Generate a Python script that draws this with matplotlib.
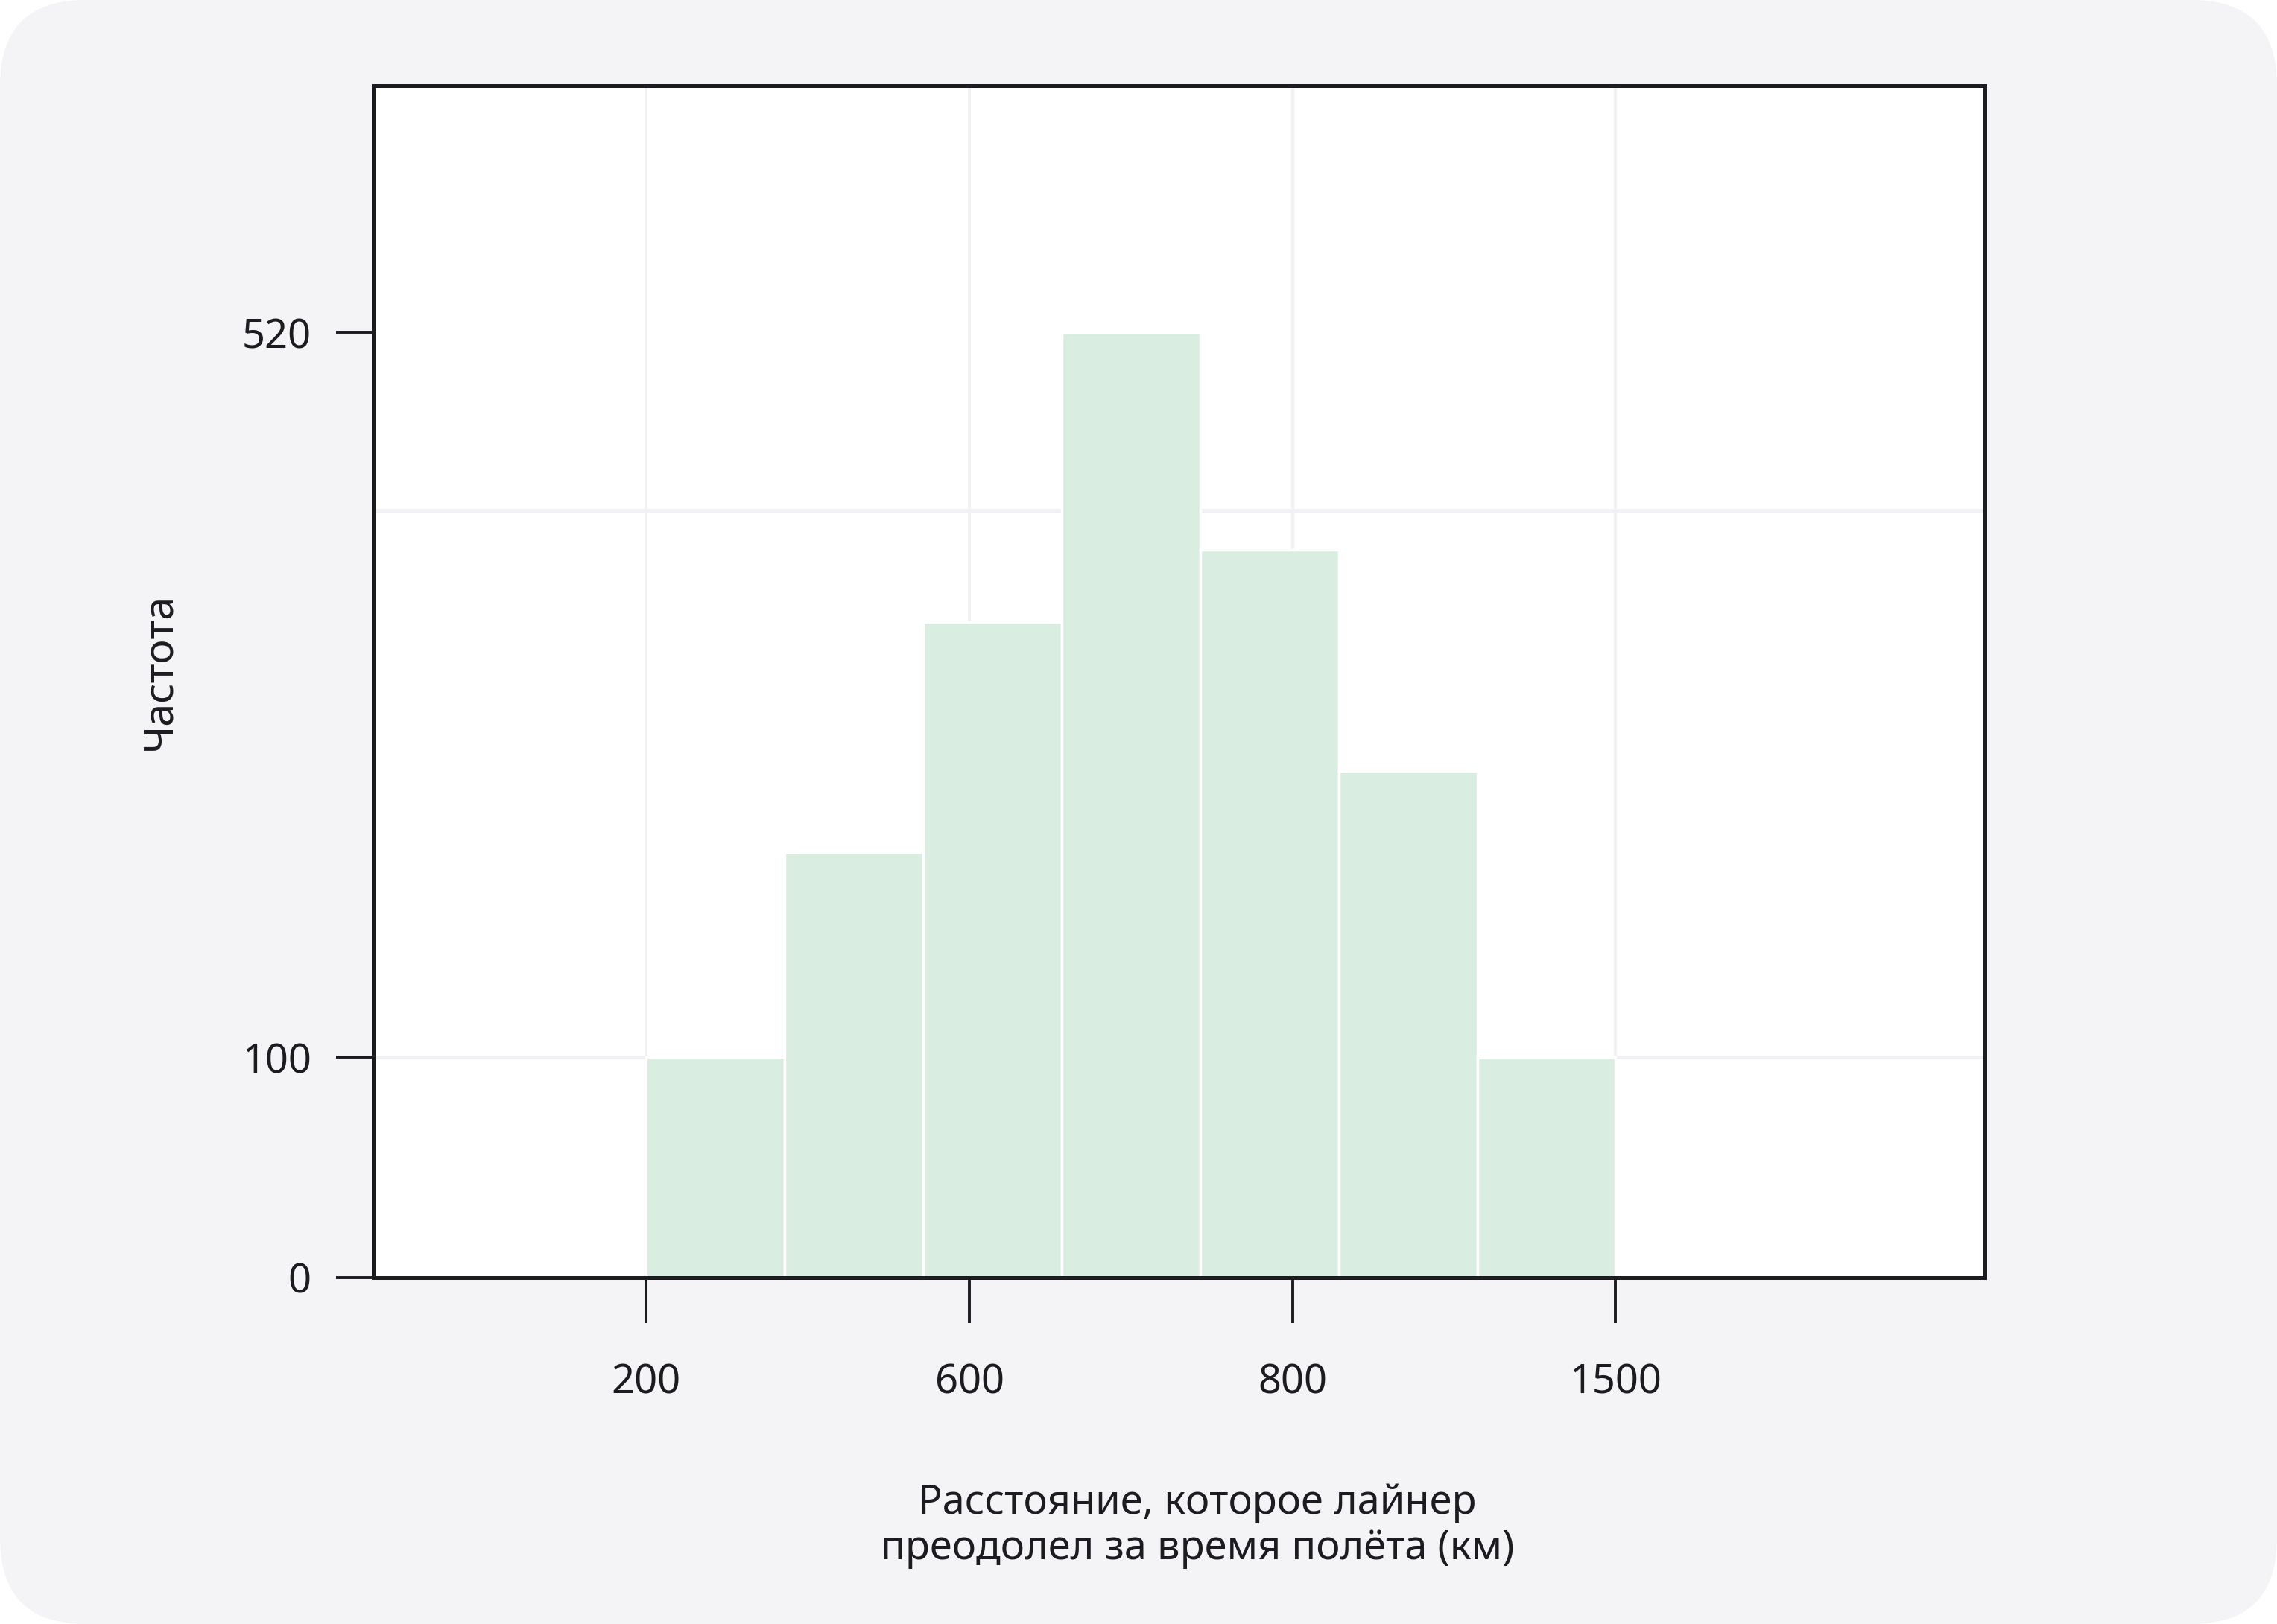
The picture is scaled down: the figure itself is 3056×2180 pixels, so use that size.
import numpy as np
import matplotlib
matplotlib.use("Agg")
import matplotlib.pyplot as plt
from matplotlib.patches import FancyBboxPatch

# ---- data ----
x_tick_labels = ["200", "600", "800", "1500"]
frequencies = [100, 219, 352, 520, 394, 266, 100]
y_ticks = [0, 100, 520]
y_grid_levels = [100, 417]

# piecewise (non-uniform) y scale as in the reference
knots_val = [0, 100, 520, 1000]
knots_pos = [0, 296, 1270, 1270 + (1000 - 520) * 974 / 420]

def fwd(v):
    return np.interp(v, knots_val, knots_pos)

def inv(p):
    return np.interp(p, knots_pos, knots_val)

TXT = "#1b1b20"
FS = 39
plt.rcParams['font.family'] = ['Noto Sans', 'DejaVu Sans']

fig = plt.figure(figsize=(30.56, 21.80), dpi=100)
fig.patch.set_facecolor("white")
card = FancyBboxPatch((0, 0), 30.56, 21.80, boxstyle="round,pad=0,rounding_size=1.15",
                      transform=fig.dpi_scale_trans, facecolor="#f4f4f6", edgecolor="none",
                      zorder=-10)
fig.patches.append(card)

ax = fig.add_axes([501 / 3056, 1 - 1715 / 2180, 2163 / 3056, 1600 / 2180])
ax.set_facecolor("white")
ax.set_yscale("function", functions=(fwd, inv))

n = len(frequencies)
edges = np.linspace(0, len(x_tick_labels) - 1, n + 1)
ax.bar(edges[:-1], frequencies, width=np.diff(edges), align="edge",
       color="#d9eee1", edgecolor="white", linewidth=2.5, zorder=2)

ax.set_xlim(-0.845, 4.143)
ax.set_ylim(0, 663)

ax.set_xticks(range(len(x_tick_labels)))
ax.set_xticklabels(x_tick_labels)
ax.set_yticks(y_ticks)
ax.set_yticklabels([str(v) for v in y_ticks])
ax.yaxis.remove_overlapping_locs = False
ax.set_yticks(y_grid_levels, minor=True)

ax.grid(True, which="major", axis="x", color="#f1f1f3", linewidth=3, zorder=0)
ax.grid(True, which="minor", axis="y", color="#f1f1f3", linewidth=3.5, zorder=0)
ax.set_axisbelow(True)

for s in ax.spines.values():
    s.set_color(TXT)
    s.set_linewidth(3.6)
    s.set_zorder(5)

ax.tick_params(axis="x", which="major", length=44, width=2.8, color=TXT,
               labelsize=FS, labelcolor=TXT, pad=38)
ax.tick_params(axis="y", which="major", length=36, width=2.8, color=TXT,
               labelsize=FS, labelcolor=TXT, pad=24)
ax.tick_params(axis="y", which="minor", length=0)

ax.set_xlabel("Расстояние, которое лайнер\nпреодолел за время полёта (км)",
              fontsize=FS, color=TXT, va="center", linespacing=1.15)
ax.xaxis.set_label_coords((1607 - 501) / 2163, -(2048 - 1715) / 1600)
ax.set_ylabel("Частота", fontsize=FS + 1, color=TXT, va="center")
ax.yaxis.set_label_coords((214 - 501) / 2163, (1715 - 901) / 1600)

fig.savefig("out.png", dpi=100, facecolor=fig.get_facecolor())
